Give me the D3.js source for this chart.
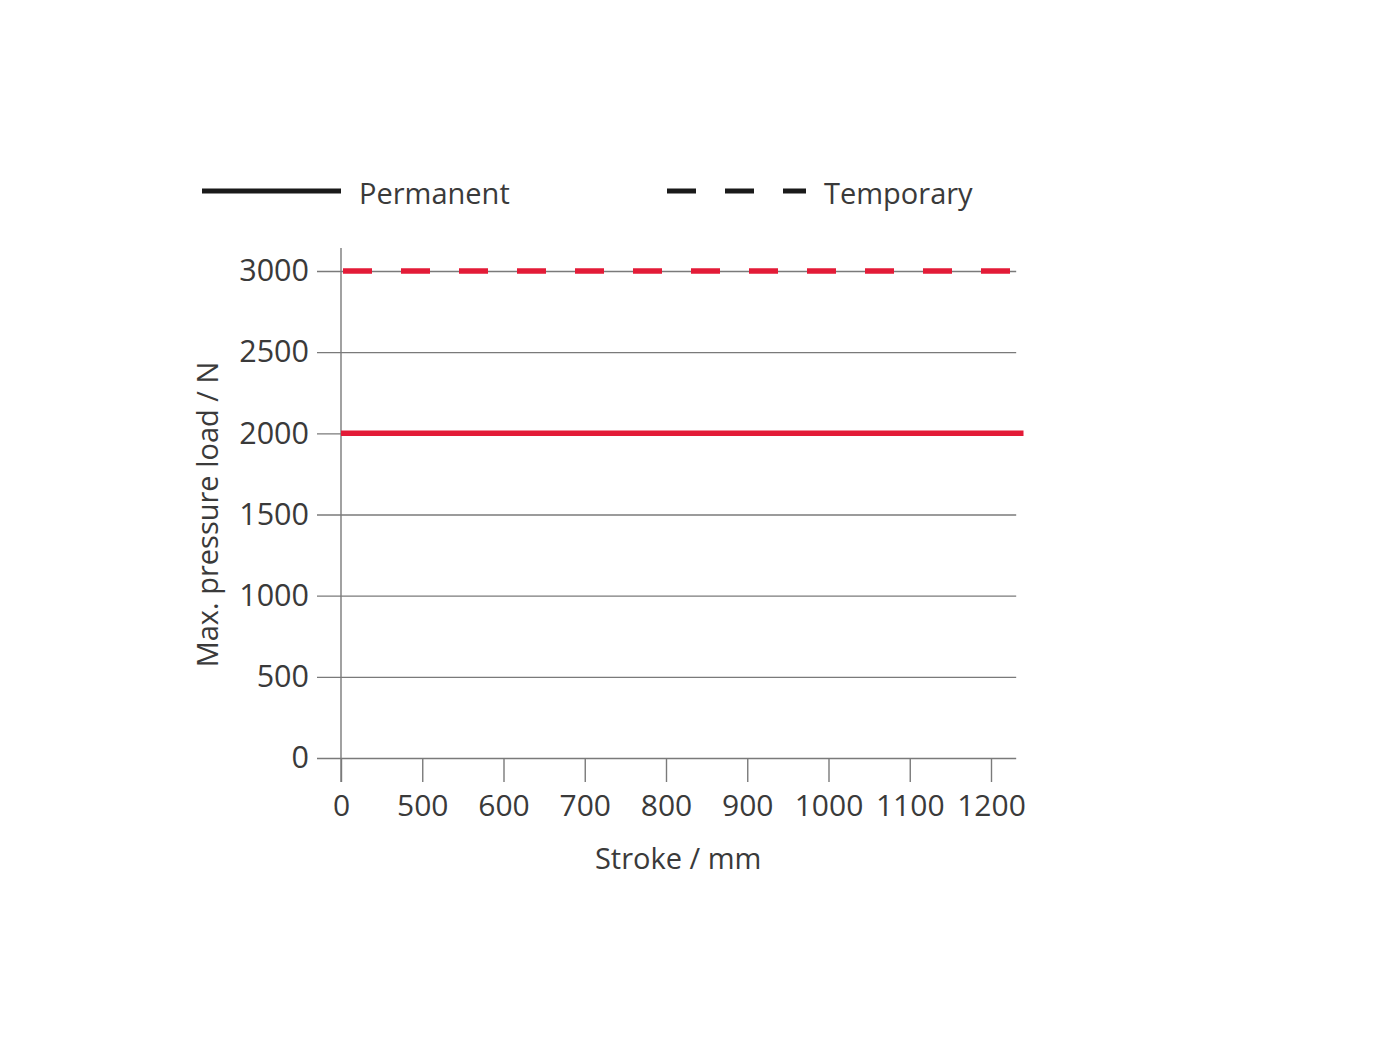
<!DOCTYPE html>
<html>
<head>
<meta charset="utf-8">
<script src="https://cdn.jsdelivr.net/npm/d3@7"></script>
<style>
  body { margin: 0; background: #fff; }
  text { font-family: "Open Sans", "Noto Sans", sans-serif; fill: #3a3a3a; }
</style>
</head>
<body>
<div class="chart"></div>
<script>
// data
const strokes = ["0", "500", "600", "700", "800", "900", "1000", "1100", "1200"];
const permanentLoad = [2000, 2000, 2000, 2000, 2000, 2000, 2000, 2000, 2000];
const temporaryLoad = [3000, 3000, 3000, 3000, 3000, 3000, 3000, 3000, 3000];
const yTicks = [0, 500, 1000, 1500, 2000, 2500, 3000];

let outWidth = 1400, outHeight = 1050;
const red = "#e31b37";
const grey = "#7a7a7a";

const svg = d3.select('.chart').append('svg')
    .attr("width", outWidth)
    .attr("height", outHeight);

let x = d3.scalePoint()
    .domain(strokes)
    .range([341, 991]);

let y = d3.scaleLinear()
    .domain([0, 3000])
    .range([758, 271]);

let step = x.step();
let gridEnd = x(strokes[strokes.length - 1]) + step * 0.31;

// y axis (ticks stretched into gridlines)
const yAxis = svg.append("g")
    .attr("transform", `translate(${gridEnd}, 0)`)
    .call(d3.axisLeft(y).tickValues(yTicks).tickSize(gridEnd - 317).tickPadding(8).tickFormat(d3.format("d")));
yAxis.select(".domain").remove();
yAxis.selectAll("line").attr("stroke", grey).attr("stroke-width", 1.4);
yAxis.selectAll("text")
    .style("font-size", "30.5px")
    .attr("fill", "#3a3a3a");

// x axis
const xAxis = svg.append("g")
    .attr("transform", `translate(0, ${y(0)})`)
    .call(d3.axisBottom(x).tickSize(24).tickPadding(13));
xAxis.select(".domain").remove();
xAxis.selectAll("line").attr("stroke", grey).attr("stroke-width", 1.4);
xAxis.selectAll("text")
    .style("font-size", "30px")
    .attr("fill", "#3a3a3a");

// vertical axis line
svg.append("line")
    .attr("x1", x("0")).attr("x2", x("0"))
    .attr("y1", y(3000) - 23).attr("y2", y(0) + 24)
    .attr("stroke", grey).attr("stroke-width", 1.4);

function extend(vals, extra) {
    // last point carried to the right edge of the plot
    const pts = vals.map((v, i) => [x(strokes[i]), y(v)]);
    pts.push([x(strokes[strokes.length - 1]) + extra, y(vals[vals.length - 1])]);
    return pts;
}

svg.append("path")
    .attr("d", d3.line()(extend(temporaryLoad, step * 0.26)))
    .attr("fill", "none")
    .attr("stroke", red)
    .attr("stroke-width", 5.5)
    .attr("stroke-dasharray", "29,29")
    .attr("stroke-dashoffset", -2);

svg.append("path")
    .attr("d", d3.line()(extend(permanentLoad, step * 0.4)))
    .attr("fill", "none")
    .attr("stroke", red)
    .attr("stroke-width", 5.5);

// axis titles
svg.append("text")
    .attr("x", x("800") + step * 0.15)
    .attr("y", 869)
    .attr("text-anchor", "middle")
    .style("font-size", "29px")
    .text("Stroke / mm");

svg.append("text")
    .attr("transform", `translate(218, ${y(1500)}) rotate(-90)`)
    .attr("text-anchor", "middle")
    .style("font-size", "29px")
    .text("Max. pressure load / N");

// legend
const legend = svg.append("g");
legend.append("line")
    .attr("x1", 202).attr("x2", 341).attr("y1", 191).attr("y2", 191)
    .attr("stroke", "#1a1a1a").attr("stroke-width", 5);
legend.append("text")
    .attr("x", 359).attr("y", 204)
    .style("font-size", "29px")
    .text("Permanent");
legend.append("line")
    .attr("x1", 667).attr("x2", 806).attr("y1", 191).attr("y2", 191)
    .attr("stroke", "#1a1a1a").attr("stroke-width", 5)
    .attr("stroke-dasharray", "29,29");
legend.append("text")
    .attr("x", 824).attr("y", 204)
    .style("font-size", "29px")
    .text("Temporary");
</script>
</body>
</html>
